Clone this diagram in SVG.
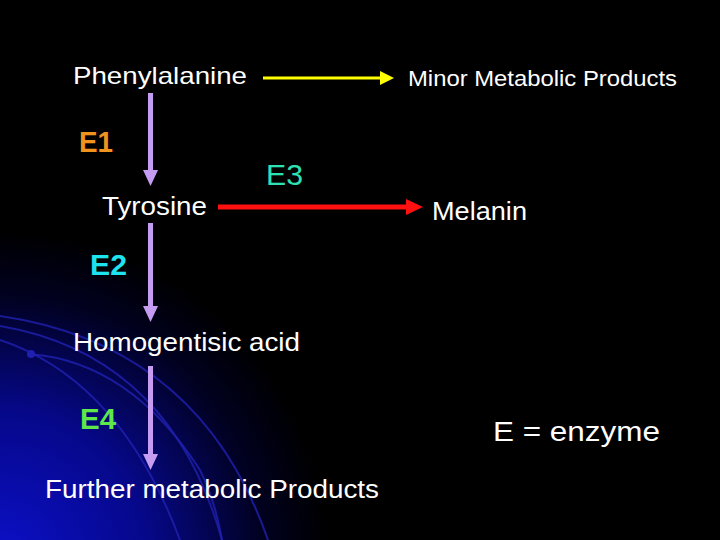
<svg xmlns="http://www.w3.org/2000/svg" width="720" height="540" viewBox="0 0 720 540">
<style>
.t{font-family:"Liberation Sans",Arial,sans-serif;fill:#fff}
.e{font-family:"Liberation Sans",Arial,sans-serif;font-size:30px}
.p{stroke:#c69cf2;stroke-width:5;fill:none}
.arc{fill:none;stroke:#2020b0;stroke-width:2;opacity:0.8}
</style>
<defs>
<radialGradient id="glow" gradientUnits="userSpaceOnUse" cx="0" cy="560" r="330">
<stop offset="0" stop-color="#0c10c8"/>
<stop offset="0.45" stop-color="#06088a"/>
<stop offset="0.8" stop-color="#010120"/>
<stop offset="1" stop-color="#000"/>
</radialGradient>
</defs>
<rect width="720" height="540" fill="#000"/>
<rect width="720" height="540" fill="url(#glow)"/>
<g id="decor">
<path class="arc" d="M0,316 Q200,345 268,540"/>
<path class="arc" d="M0,326 Q170,355 222,540"/>
<path class="arc" d="M30,354 Q130,362 200,470 Q215,500 222,540"/>
<path class="arc" d="M0,340 Q120,380 180,540"/>
<circle cx="31" cy="354" r="4" fill="#2020b0"/>
</g>
<g id="connectors">
<g id="c-phe-minor">
<line x1="263" y1="78" x2="381" y2="78" stroke="#ffff00" stroke-width="3"/>
<polygon points="380,71 394,78 380,85" fill="#ffff00"/>
</g>
<g id="c-tyr-mel">
<line x1="218" y1="207" x2="408" y2="207" stroke="#ff1010" stroke-width="5"/>
<polygon points="406,199 423,207 406,215" fill="#ff1010"/>
</g>
<g id="c-phe-tyr">
<line class="p" x1="150.5" y1="93" x2="150.5" y2="172"/>
<polygon points="143,170 158,170 150.5,186" fill="#c69cf2"/>
</g>
<g id="c-tyr-hga">
<line class="p" x1="150.5" y1="223" x2="150.5" y2="308"/>
<polygon points="143,306 158,306 150.5,322" fill="#c69cf2"/>
</g>
<g id="c-hga-further">
<line class="p" x1="150.5" y1="366" x2="150.5" y2="456"/>
<polygon points="143,454 158,454 150.5,470" fill="#c69cf2"/>
</g>
</g>
<g id="phenylalanine"><text class="t" x="73" y="84" font-size="24" textLength="174" lengthAdjust="spacingAndGlyphs">Phenylalanine</text></g>
<g id="minor"><text class="t" x="408" y="86" font-size="22" textLength="269" lengthAdjust="spacingAndGlyphs">Minor Metabolic Products</text></g>
<g id="e1"><text class="e" x="79" y="152" fill="#f0921e" font-weight="bold" textLength="34" lengthAdjust="spacingAndGlyphs">E1</text></g>
<g id="e3"><text class="e" x="266" y="185" fill="#2ee0b4" textLength="37" lengthAdjust="spacingAndGlyphs">E3</text></g>
<g id="tyrosine"><text class="t" x="102" y="215" font-size="25" textLength="105" lengthAdjust="spacingAndGlyphs">Tyrosine</text></g>
<g id="melanin"><text class="t" x="432" y="220" font-size="25" textLength="95" lengthAdjust="spacingAndGlyphs">Melanin</text></g>
<g id="e2"><text class="e" x="90" y="275" fill="#1ee2ee" font-weight="bold" textLength="37" lengthAdjust="spacingAndGlyphs">E2</text></g>
<g id="homogentisic"><text class="t" x="73" y="351" font-size="25" textLength="227" lengthAdjust="spacingAndGlyphs">Homogentisic acid</text></g>
<g id="e4"><text class="e" x="80" y="429" fill="#5ee84a" font-weight="bold" textLength="36" lengthAdjust="spacingAndGlyphs">E4</text></g>
<g id="enzyme"><text class="t" x="493" y="441" font-size="28" textLength="167" lengthAdjust="spacingAndGlyphs">E = enzyme</text></g>
<g id="further"><text class="t" x="45" y="498" font-size="25" textLength="334" lengthAdjust="spacingAndGlyphs">Further metabolic Products</text></g>
</svg>
